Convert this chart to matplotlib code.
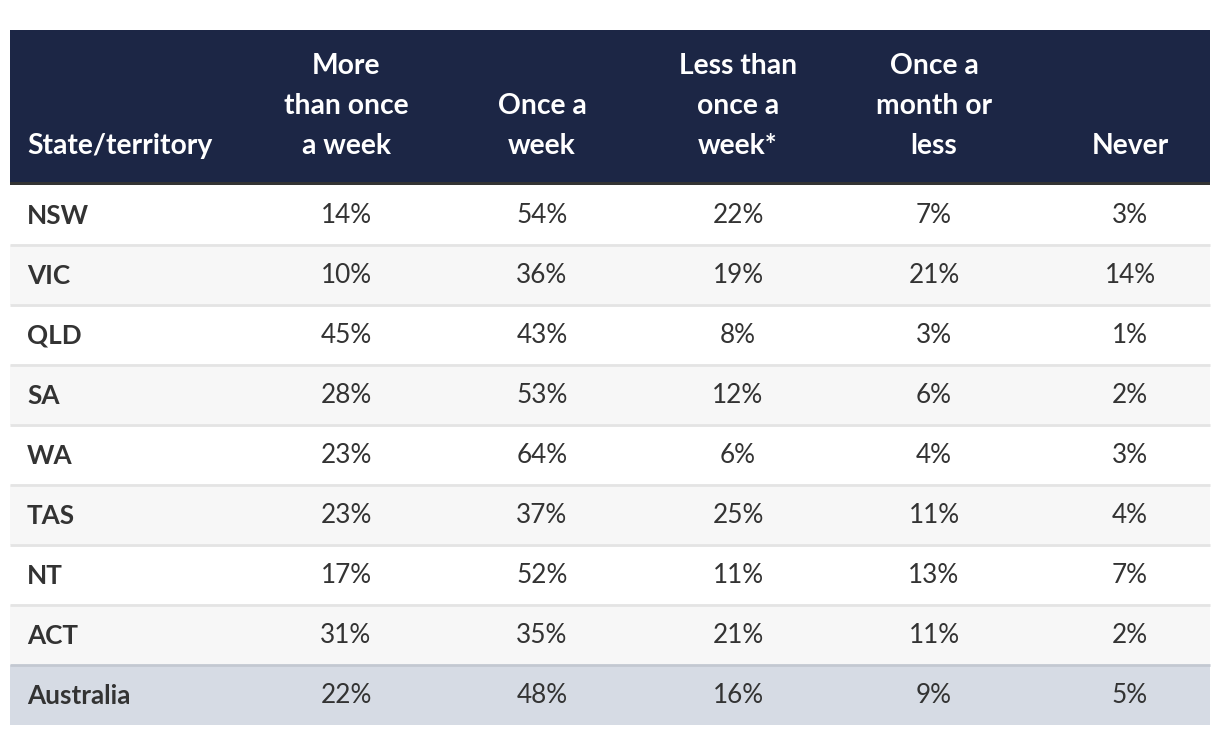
import matplotlib
matplotlib.use("Agg")
import matplotlib.pyplot as plt
from matplotlib.patches import Rectangle

plt.rcParams["font.family"] = ["Lato", "DejaVu Sans"]

columns = ["State/territory", "More\nthan once\na week", "Once a\nweek",
           "Less than\nonce a\nweek*", "Once a\nmonth or\nless", "Never"]
states = ["NSW", "VIC", "QLD", "SA", "WA", "TAS", "NT", "ACT", "Australia"]
more_than_weekly = [14, 10, 45, 28, 23, 23, 17, 31, 22]
once_a_week = [54, 36, 43, 53, 64, 37, 52, 35, 48]
less_than_weekly = [22, 19, 8, 12, 6, 25, 11, 21, 16]
monthly_or_less = [7, 21, 3, 6, 4, 11, 13, 11, 9]
never = [3, 14, 1, 2, 3, 4, 7, 2, 5]

series = [more_than_weekly, once_a_week, less_than_weekly, monthly_or_less, never]

W, H = 1220, 734
fig = plt.figure(figsize=(W / 100, H / 100), dpi=100)
ax = fig.add_axes([0, 0, 1, 1])
ax.set_xlim(0, W)
ax.set_ylim(H, 0)
ax.axis("off")

left, right = 10, 1210
head_top, head_bot = 30, 182
row_h = 60
first_row = 185
col_x = [346, 542, 738, 934, 1130]
text_col = "#333333"
fs = 18.8
head_fs = 20.3

# header
ax.add_patch(Rectangle((left, head_top), right - left, head_bot - head_top,
                       color="#1c2645", lw=0))
ax.add_patch(Rectangle((left, head_bot), right - left, 4, color="#333333", lw=0))
ax.text(27, 146, columns[0], color="white", fontsize=head_fs, fontweight="bold",
        ha="left", va="center")
for x, label in zip(col_x, columns[1:]):
    lines = label.split("\n")
    for k, line in enumerate(reversed(lines)):
        ax.text(x, 146 - 40 * k, line, color="white", fontsize=head_fs,
                fontweight="bold", ha="center", va="center")

# body rows
for i, state in enumerate(states):
    top = first_row + i * row_h
    if state == "Australia":
        bg = "#d6dbe4"
        line_col = "#c3c8d1"
    else:
        bg = "#ffffff" if i % 2 == 0 else "#f7f7f7"
        line_col = "#e4e4e4"
    ax.add_patch(Rectangle((left, top), right - left, row_h, color=bg, lw=0))
    if i > 0:
        ax.plot([left, right], [top, top], color=line_col, lw=2,
                solid_capstyle="butt")
    cy = top + row_h / 2 + 0.5
    ax.text(27, cy, state, color=text_col, fontsize=fs, fontweight="bold",
            ha="left", va="center")
    for x, vals in zip(col_x, series):
        ax.text(x, cy, f"{vals[i]}%", color=text_col, fontsize=fs,
                ha="center", va="center")

fig.savefig("out.png", dpi=100)
